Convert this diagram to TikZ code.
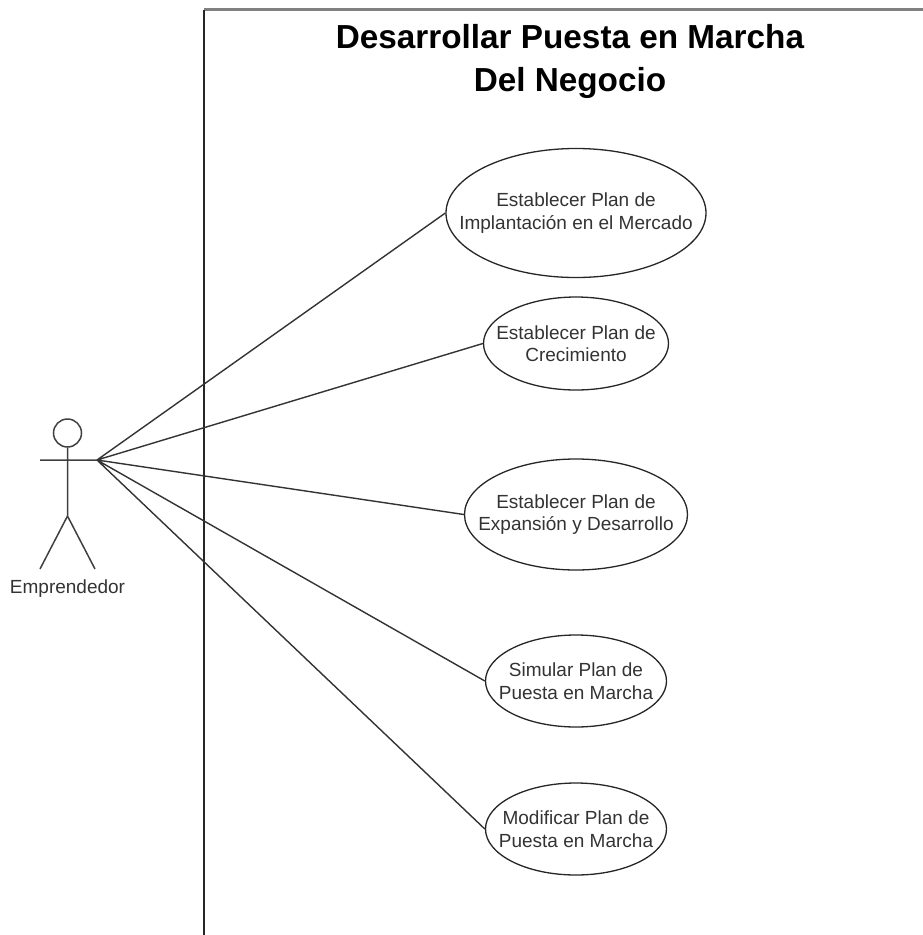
\documentclass[tikz,border=0pt]{standalone}
\usepackage{fontspec}
\setmainfont{Liberation Sans}
\usetikzlibrary{shapes.geometric}
\tikzstyle{usecase} = [ellipse, draw=black!85, fill=white, line width=1.3pt, inner sep=0pt]
\tikzstyle{casetext} = [align=center, font=\fontsize{19}{22.5}\selectfont, text=black!80]
\tikzstyle{actorline} = [draw=black!75, line width=1.5pt]
\tikzstyle{assoc} = [draw=black!80, line width=1.4pt]

\begin{document}
\begin{tikzpicture}[x=1pt,y=-1pt,node distance=150pt]
  \useasboundingbox (0,0) rectangle (923,935);

  % limite del sistema
  \coordinate (sysbl) at (204,935);
  \coordinate (systl) at (204,9.5);
  \coordinate (systr) at (923,9.5);
  \draw[line width=3pt,draw=black!50] (systl) -- (systr);
  \draw[line width=2pt,draw=black!85] (sysbl) -- (systl);
  \node (title) at (570,61) [align=center,font=\fontsize{33.3}{43}\selectfont\bfseries] {Desarrollar Puesta en Marcha\\Del Negocio};

  % actor
  \node (head) [circle,actorline,minimum size=28pt,inner sep=0pt] at (67.5,433) {};
  \coordinate (lhand) at (40,460);
  \coordinate (rhand) at (97,460);
  \coordinate (hip) at (67.5,516);
  \coordinate (lfoot) at (40,569);
  \coordinate (rfoot) at (95,569);
  \path[actorline] (head) -- (hip) (lhand) -- (rhand) (lfoot) -- (hip) -- (rfoot);
  \node (actor) at (67.5,589) [font=\fontsize{19}{22}\selectfont,text=black!80] {Emprendedor};

  % casos de uso
  \node[usecase,minimum width=260pt,minimum height=129pt,label={[casetext]center:Establecer Plan de\\Implantaci\'on en el Mercado}] (plan1) at (576,213) {};
  \node[usecase,minimum width=185pt,minimum height=93pt,label={[casetext]center:Establecer Plan de\\Crecimiento}]  (plan2) [below of=plan1,node distance=130.5pt] {};
  \node[usecase,minimum width=223pt,minimum height=111pt,label={[casetext]center:Establecer Plan de\\Expansi\'on y Desarrollo}] (plan3) [below of=plan2,node distance=171pt] {};
  \node[usecase,minimum width=181pt,minimum height=92pt,label={[casetext]center:Simular Plan de\\Puesta en Marcha}]  (plan4) [below of=plan3,node distance=166.5pt] {};
  \node[usecase,minimum width=181pt,minimum height=92pt,label={[casetext]center:Modificar Plan de\\Puesta en Marcha}]  (plan5) [below of=plan4,node distance=148pt] {};

  \path[assoc] (rhand) -- (plan1.west)
        (rhand) -- (plan2.west)
        (rhand) -- (plan3.west)
        (rhand) -- (plan4.west)
        (rhand) -- (plan5.west);
\end{tikzpicture}
\end{document}
